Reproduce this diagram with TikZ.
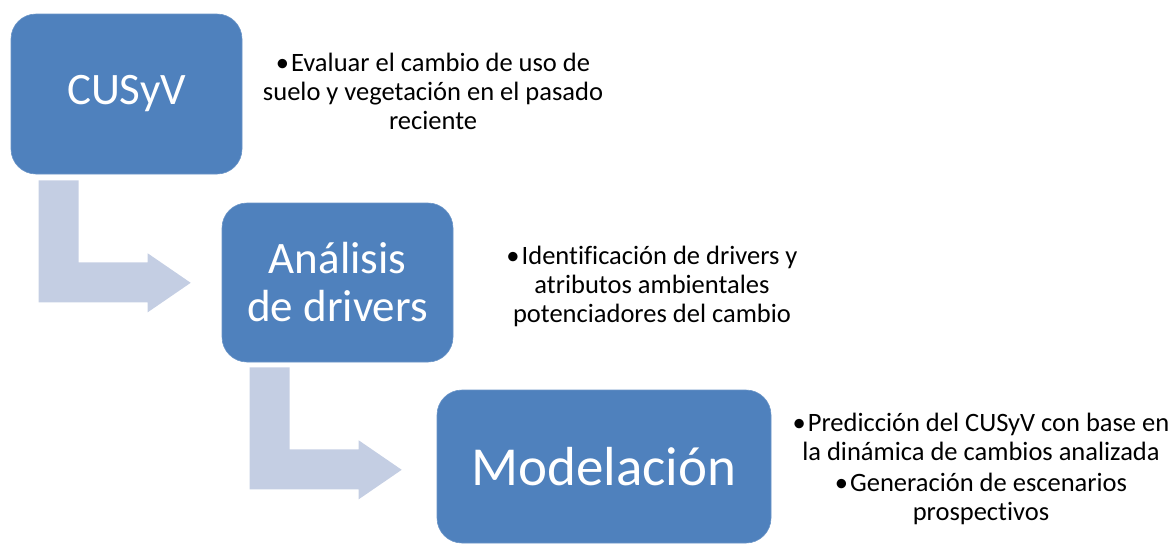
\documentclass[tikz,border=0pt]{standalone}
\usepackage{fontspec}
\setmainfont{Carlito}[Ligatures=NoCommon]
\usepackage{tikz}
\usetikzlibrary{calc}

\definecolor{boxblue}{RGB}{79,129,189}
\definecolor{arrowblue}{RGB}{196,206,227}

\tikzset{
  stepbox/.style={fill=boxblue,draw=boxblue!85!white,line width=0.6pt,rounded corners=25pt,
    text=white,inner sep=0pt,align=center,font=\fontsize{45}{48}\selectfont},
  bullettxt/.style={inner sep=0pt,align=center,font=\fontsize{26.5}{29}\selectfont},
  bentarrow/.style={fill=arrowblue,draw=none}
}

\begin{document}
\begin{tikzpicture}[x=1pt,y=-1pt]
  % Boundary
  \path[use as bounding box] (0,0) rectangle (1168,544);
  % Steps
  \node[stepbox,minimum width=231,minimum height=160] (cusyv) at (126.5,94) {CUSyV};
  \node[stepbox,minimum width=231,minimum height=159] (drivers) at (337.5,282.5) {Análisis\\de drivers};
  \node[stepbox,minimum width=334,minimum height=153,font=\fontsize{55}{60}\selectfont] (modelo) at (604,466.5) {Modelación};
  % Bent arrows
  \draw[bentarrow] ($(cusyv.south west)+(28,6)$) -- ++(40,0) -- ++(0,82) -- ++(69,0) -- ++(0,-9)
    -- ++(43,29.5) -- ++(-43,29.5) -- ++(0,-10) -- ++(-109,0) -- cycle;
  \draw[bentarrow] ($(drivers.south west)+(28,5)$) -- ++(40,0) -- ++(0,82) -- ++(69,0) -- ++(0,-9)
    -- ++(43,29.5) -- ++(-43,29.5) -- ++(0,-10) -- ++(-109,0) -- cycle;
  % Descriptions
  \node[bullettxt] (cusyvtxt) at (433,91) {•\kern2pt Evaluar el cambio de uso de\\suelo y vegetación en el pasado\\reciente};
  \node[bullettxt] (driverstxt) at (652,286) {•\kern2pt Identificación de drivers y\\atributos ambientales\\potenciadores del cambio};
  \node[bullettxt] (modelotxt) at (981,469) {•\kern2pt Predicción del CUSyV con base en\\la dinámica de cambios analizada\\[2pt]•\kern2pt Generación de escenarios\\prospectivos};
\end{tikzpicture}
\end{document}
